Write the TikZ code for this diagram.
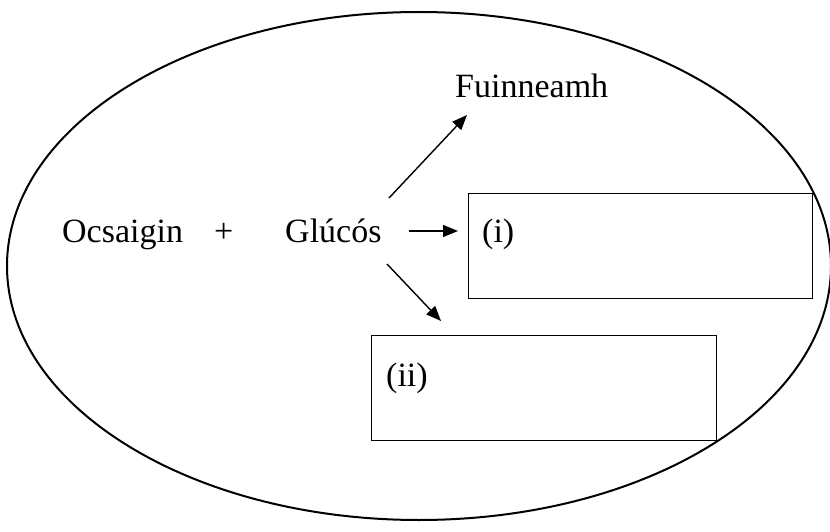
\documentclass[tikz,border=0pt]{standalone}
\usepackage{fontspec}
\setmainfont{Liberation Serif}
\usetikzlibrary{arrows.meta}
\begin{document}
\begin{tikzpicture}[x=1pt,y=-1pt,
  lbl/.style={inner sep=0pt,anchor=base west,font=\fontsize{34}{40}\selectfont},
  ansbox/.style={draw,line width=1pt},
  arr/.style={line width=1.4pt,-{Triangle[length=15pt,width=12pt]}}]
\useasboundingbox (0,0) rectangle (830,532);
\draw[line width=2pt] (419,266) ellipse [x radius=412, y radius=254];
\node[lbl] (ocs) at (62,242) {Ocsaigin};
\node[lbl] (plus) at (214,242) {+};
\node[lbl] (glu) at (285,242) {Glúcós};
\node[lbl] (fui) at (455,98) {Fuinneamh};
\draw[ansbox] (468,193) rectangle (812,298);
\node[lbl] (i) at (482,242) {(i)};
\draw[ansbox] (371,335) rectangle (716,440);
\node[lbl] (ii) at (386,386) {(ii)};
\coordinate (a1s) at (389,198);
\coordinate (a1e) at (467,115);
\coordinate (a2s) at (409,231);
\coordinate (a2e) at (458,231);
\coordinate (a3s) at (387,264);
\coordinate (a3e) at (441,321);
\draw[arr] (a1s) -- (a1e);
\draw[arr] (a2s) -- (a2e);
\draw[arr] (a3s) -- (a3e);
\end{tikzpicture}
\end{document}
